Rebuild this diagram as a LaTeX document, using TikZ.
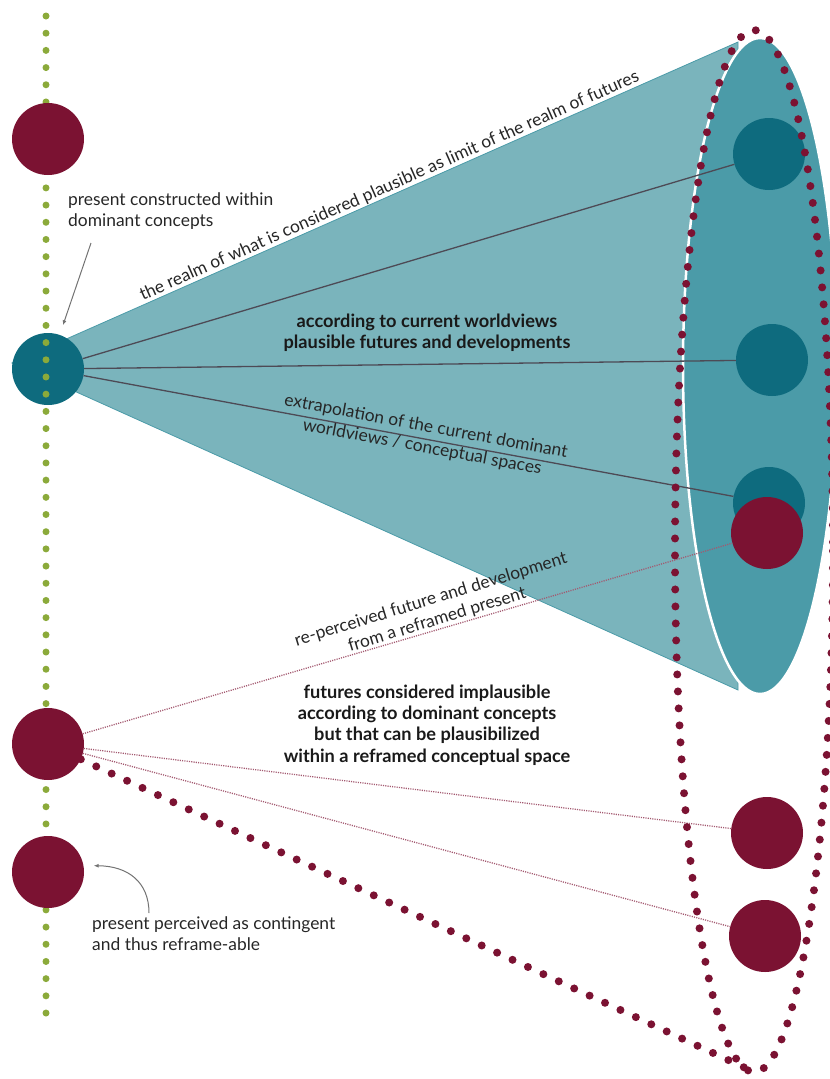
\documentclass[tikz,border=0pt]{standalone}
\usepackage{fontspec}
\setmainfont{Lato}
\usetikzlibrary{arrows.meta, calc}

\definecolor{wine}{RGB}{123,18,50}
\definecolor{deepteal}{RGB}{14,107,126}
\definecolor{coneteal}{RGB}{122,180,188}
\definecolor{rimteal}{RGB}{75,155,168}
\definecolor{greenline}{RGB}{139,170,58}
\definecolor{slate}{RGB}{77,74,85}

\begin{document}
\begin{tikzpicture}[x=1pt, y=-1pt,
    spot/.style={circle, minimum size=72pt, inner sep=0pt, fill=#1},
    note/.style={font=\fontsize{17.4}{21}\selectfont, text=black!85, inner sep=0pt},
    bignote/.style={font=\fontsize{18.2}{21.3}\selectfont\bfseries, text=black!90,
                    align=center, inner sep=0pt},
    pointer/.style={draw=gray!90!black, line width=1pt, -{Latex[length=5pt, width=4pt]}},
    ray/.style={draw=slate, line width=1.3pt},
    thread/.style={draw=wine!70, line width=1.3pt, dash pattern=on 1.1pt off 1.2pt},
    beads/.style={draw=wine, line width=8pt, line cap=round, dash pattern=on 0pt off 17pt},
    timeline/.style={draw=greenline, line width=7pt, line cap=round, dash pattern=on 0pt off 17.19pt}]
    \useasboundingbox (0,0) rectangle (830,1079);
    \clip (0,0) rectangle (830,1079);

    \coordinate (apex) at (12,363);
    \coordinate (ctop) at (738,42);
    \coordinate (cbot) at (738,690);
    \fill[coneteal, draw=rimteal, line width=0.8pt] (apex) -- (ctop) -- (cbot) -- cycle;
    \draw[white, line width=2.5pt, fill=rimteal] (760,366) ellipse [x radius=77, y radius=328];

    \node[spot=deepteal] (now) at (48,369) {};
    \draw[timeline] (46,16) -- (46,1030);
    \node[spot=wine] (past) at (48,139) {};
    \node[spot=wine] (reframed) at (48,744) {};
    \node[spot=wine] (contingent) at (48,872) {};

    \node[spot=deepteal] (upper) at (769,154) {};
    \node[spot=deepteal] (middle) at (772,360) {};
    \node[spot=deepteal] (lower) at (769,503) {};
    \node[spot=wine] (reperceived) at (767,533) {};
    \node[spot=wine] (altone) at (767,833) {};
    \node[spot=wine] (alttwo) at (765,936) {};

    \draw[ray] (now) -- (upper);
    \draw[ray] (now) -- (middle);
    \draw[ray] (now) -- (lower);

    \draw[thread] (reframed) -- (reperceived);
    \draw[thread] (reframed) -- (altone);
    \draw[thread] (reframed) -- (alttwo);

    \coordinate (lensfoot) at (754,1072);
    \draw[beads] (754,551) ellipse [x radius=79, y radius=521];
    \draw[beads] (reframed) -- (lensfoot);

    \path (apex) -- (ctop) node[pos=0.525, sloped, above=1pt, note] (realm)
         {the realm of what is considered plausible as limit of the realm of futures};
    \node[bignote] (plausible) at (427,333)
         {according to current worldviews\\plausible futures and developments};
    \node[note, align=center, rotate=-10.5] (extrap) at (424,437)
         {extrapolation of the current dominant\\worldviews / conceptual spaces};
    \node[note, align=center, rotate=17] (reperc) at (434,610)
         {re-perceived future and development\\from a reframed present};
    \node[bignote] (implausible) at (427,725)
         {futures considered implausible\\according to dominant concepts\\but that can be plausibilized\\within a reframed conceptual space};

    \node[note, align=left, anchor=north west] (dominant) at (68,192)
         {present constructed within\\dominant concepts};
    \coordinate (taila) at (91,243);
    \draw[pointer, shorten >=10pt] (taila) -- (now);

    \node[note, align=left, anchor=north west] (perceived) at (92,916)
         {present perceived as contingent\\and thus reframe-able};
    \coordinate (tailb) at (149,913);
    \draw[pointer] (tailb) .. controls (149,882) and (128,866) .. ($(contingent.10)+(10,0)$);
\end{tikzpicture}
\end{document}
